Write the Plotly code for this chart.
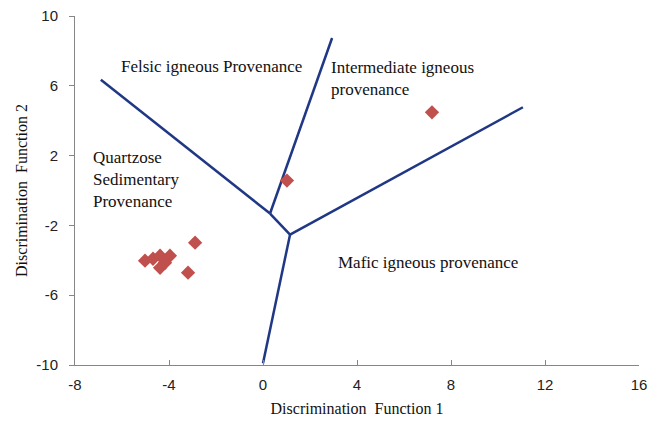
import plotly.graph_objects as go

# Sample scores on the two discriminant functions
df1_values = [7.19, 1.02, -2.89, -3.19, -5.02, -4.68, -4.38, -3.96, -4.38, -4.17]
df2_values = [4.48, 0.57, -2.99, -4.71, -4.02, -3.91, -3.74, -3.74, -4.43, -4.14]

# Provenance field boundaries (segments between vertices)
boundary_segments = [
    ([-6.9, 0.3], [6.35, -1.32]),
    ([0.3, 2.94], [-1.32, 8.74]),
    ([0.3, 1.15], [-1.32, -2.53]),
    ([1.15, 11.06], [-2.53, 4.77]),
    ([1.15, 0.0], [-2.53, -9.9]),
]

# Field labels (left edge, vertical centre)
field_labels = [
    ("Felsic igneous Provenance", -6.12, 7.13),
    ("Intermediate igneous<br>provenance", 2.82, 6.41),
    ("Quartzose<br>Sedimentary<br>Provenance", -7.32, 0.63),
    ("Mafic igneous provenance", 3.1, -4.14),
]

x_ticks = [-8, -4, 0, 4, 8, 12, 16]
y_ticks = [-10, -6, -2, 2, 6, 10]

serif = "Liberation Serif, Times New Roman, serif"

fig = go.Figure()

for xs, ys in boundary_segments:
    fig.add_trace(go.Scatter(
        x=xs, y=ys, mode="lines",
        line=dict(color="#1f3784", width=2.5),
        hoverinfo="skip", showlegend=False,
    ))

fig.add_trace(go.Scatter(
    x=df1_values, y=df2_values, mode="markers",
    marker=dict(symbol="diamond", size=11, color="#c0504d"),
    showlegend=False,
))

for text, x, y in field_labels:
    fig.add_annotation(
        x=x, y=y, text=text, showarrow=False,
        xanchor="left", yanchor="middle", align="left",
        font=dict(family=serif, size=17, color="#111111"),
    )

axis_font = dict(family="Liberation Sans, Arial, sans-serif", size=15, color="#222222")

fig.update_layout(
    width=662, height=423,
    margin=dict(l=75, r=23, t=16, b=58),
    paper_bgcolor="white", plot_bgcolor="white",
    xaxis=dict(
        range=[-8, 16], tickvals=x_ticks, ticktext=[str(v) for v in x_ticks],
        showgrid=False, zeroline=False, automargin=False,
        showline=True, linecolor="#868686", linewidth=1,
        ticks="inside", ticklen=5, tickcolor="#868686",
        tickfont=axis_font, ticklabelstandoff=6,
        title=dict(text="Discrimination  Function 1", font=dict(family=serif, size=16, color="#111111"), standoff=10),
    ),
    yaxis=dict(
        range=[-10, 10], tickvals=y_ticks, ticktext=[str(v) for v in y_ticks],
        showgrid=False, zeroline=False, automargin=False,
        showline=True, linecolor="#868686", linewidth=1,
        ticks="outside", ticklen=5, tickcolor="#868686",
        tickfont=axis_font, ticklabelstandoff=8,
        title=dict(text="Discrimination  Function 2", font=dict(family=serif, size=16, color="#111111"), standoff=4),
    ),
)

fig.write_html("out.html")
